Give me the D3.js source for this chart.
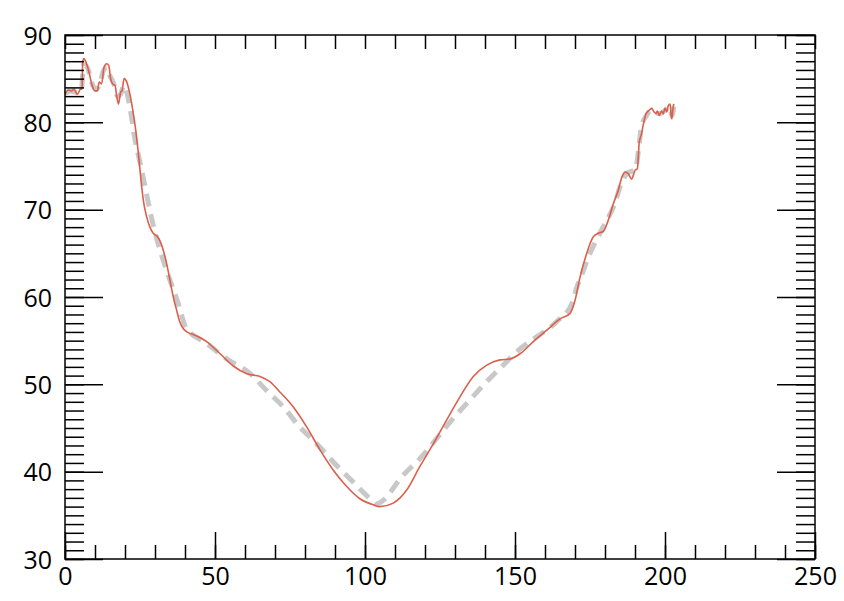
<!DOCTYPE html>
<html>
<head>
<meta charset="utf-8">
<script src="https://cdn.jsdelivr.net/npm/d3@7"></script>
<style>
  body { margin: 0; background: #fff; }
  svg text { font-family: "Open Sans", sans-serif; font-size: 25px; fill: #000; }
</style>
</head>
<body>
<svg id="svg"></svg>
<script>
////////////////////////////////////////////////////////////////////////
// Data

// measured profile (red solid line)
let measX = [0, 1.1, 2.2, 3.0, 4.1, 5.2, 5.7, 5.9, 6.3, 7.0, 8.1, 8.9, 10.0, 10.8, 11.4, 12.2,
  13.0, 13.9, 14.6, 15.2, 15.9, 16.7, 17.2, 17.8, 18.6, 19.0, 19.7, 20.6, 21.4, 22.4, 23.5,
  24.5, 25.3, 26.1, 27.2, 28.3, 29.4, 30.6, 31.7, 32.8, 33.9, 35.0, 36.1, 37.2, 38.3, 39.4,
  40.6, 42.8, 47.2, 51.7, 56.1, 60.6, 65.0, 68.3, 71.7, 76.1, 80.6, 85.0, 89.4, 93.9, 98.3,
  102.8, 105.0, 109.4, 113.9, 118.3, 122.8, 127.2, 131.7, 136.1, 140.6, 145.0, 148.3, 151.7,
  156.1, 160.6, 165.0, 168.3, 170.0, 171.7, 173.9, 176.1, 177.8, 179.4, 181.1, 182.8, 184.4,
  185.6, 186.7, 187.8, 188.9, 189.4, 190.0, 190.8, 191.1, 191.4, 192.2, 192.8, 193.7, 194.8,
  195.6, 196.3, 197.0, 197.4, 198.1, 198.8, 199.4, 200.0, 200.6, 201.1, 201.7, 202.1, 202.3,
  202.6, 202.8, 203.0];
let measY = [83.2, 83.7, 83.6, 83.8, 83.2, 83.8, 83.8, 86.9, 87.3, 86.9, 85.6, 84.4, 83.6, 83.6, 84.6, 84.4,
  86.3, 86.7, 86.5, 85.0, 84.4, 84.2, 83.1, 82.1, 83.5, 83.6, 85.0, 84.6, 83.6, 81.8, 79.3,
  76.3, 73.5, 71.1, 69.2, 68.0, 67.3, 67.0, 66.4, 65.3, 63.8, 61.9, 60.0, 58.5, 57.1, 56.4,
  56.0, 55.7, 54.9, 53.5, 52.1, 51.2, 50.9, 50.3, 49.1, 47.4, 45.1, 42.5, 40.2, 38.3, 36.9,
  36.2, 36.0, 36.4, 37.9, 40.6, 43.2, 45.9, 48.6, 50.9, 52.2, 52.8, 52.9, 53.5,
  54.9, 56.2, 57.5, 58.1, 59.6, 62.3, 65.0, 66.9, 67.3, 67.5, 68.8, 70.7, 72.2,
  73.7, 74.3, 74.1, 73.5, 73.9, 74.5, 74.7, 76.0, 77.7, 78.7, 79.8, 81.0, 81.4,
  81.6, 81.2, 81.0, 81.3, 80.8, 81.3, 81.0, 81.6, 81.2, 81.9, 82.1, 80.6, 80.4,
  81.4, 81.9, 82.1];

// fitted profile (grey dashed line)
let fitX = [0, 2, 4, 5.5, 6.2, 7.2, 8.3, 9.3, 10.5, 11.6, 12.8, 14.0, 15.0, 16.2, 17.5, 18.5,
  19.6, 20.6, 21.7, 23.3, 25.0, 26.7, 28.3, 30.0, 32.2, 35.0, 37.8, 40.3, 47.2, 54.4, 61.1,
  67.2, 72.8, 78.3, 83.9, 90.0, 96.1, 101.7, 103.8, 106.0, 112.2, 118.3, 123.9, 128.9, 134.4,
  140.0, 146.1, 151.5, 157.5, 164.3, 168.9, 170.6, 172.2, 175.0, 178.3, 181.7, 183.3, 185.0,
  187.5, 190.2, 191.1, 192.2, 193.9, 195.5, 197.0, 198.5, 200.0, 201.5, 202.3, 203.0];
let fitY = [83.3, 83.6, 83.4, 83.8, 86.6, 86.4, 85.4, 84.2, 83.8, 84.4, 85.9, 86.3, 85.3, 84.5, 83.0, 83.2,
  84.2, 83.4, 81.6, 78.1, 75.4, 72.6, 69.9, 67.4, 64.8, 61.9, 59.2, 56.5, 54.7, 52.8, 51.4,
  49.3, 47.4, 45.1, 43.2, 40.9, 38.8, 36.9, 36.3, 36.7, 39.4, 41.5, 43.8, 45.9, 48.0,
  50.1, 52.2, 54.0, 55.5, 57.3, 59.2, 61.1, 62.5, 65.0, 67.3, 69.5, 70.7, 72.6,
  74.2, 74.6, 76.6, 79.6, 80.8, 81.4, 81.1, 81.0, 81.4, 81.8, 80.8, 81.9];

let xDomain = [0, 250];
let yDomain = [30, 90];
let xMajor = [0, 50, 100, 150, 200, 250];
let yMajor = [30, 40, 50, 60, 70, 80, 90];


////////////////////////////////////////////////////////////////////////
// Layout

let width = 844, height = 601;
let margin = { left: 65, right: 29, top: 35, bottom: 42 };

let svg = d3.select("#svg")
  .attr("width", width)
  .attr("height", height);

let xScale = d3.scaleLinear().domain(xDomain)
  .range([margin.left, width - margin.right]);
let yScale = d3.scaleLinear().domain(yDomain)
  .range([height - margin.bottom, margin.top]);

let xMinor = d3.range(xDomain[0], xDomain[1] + 1, 10);
let yMinor = d3.range(yDomain[0], yDomain[1] + 1, 1);


////////////////////////////////////////////////////////////////////////
// Lines

function makeLine(xs, ys) {
  return d3.line()
    .x((d, i) => xScale(xs[i]))
    .y((d, i) => yScale(ys[i]))
    .curve(d3.curveMonotoneX)(xs);
}

svg.append("path")
  .attr("d", makeLine(fitX, fitY))
  .attr("fill", "none")
  .attr("stroke", "#c8c8c8")
  .attr("stroke-width", 5)
  .attr("stroke-dasharray", "13,8");

svg.append("path")
  .attr("d", makeLine(measX, measY))
  .attr("fill", "none")
  .attr("stroke", "#dc5f4b")
  .attr("stroke-width", 1.6);


////////////////////////////////////////////////////////////////////////
// Axes (all ticks point inward)

function styleAxis(g) {
  g.select(".domain").remove();
  g.selectAll(".tick line").attr("stroke", "#000").attr("stroke-width", 1.5);
}

let bottomY = yScale(yDomain[0]), topY = yScale(yDomain[1]);
let leftX = xScale(xDomain[0]), rightX = xScale(xDomain[1]);

// bottom
svg.append("g").attr("transform", `translate(0,${bottomY})`)
  .call(d3.axisBottom(xScale).tickValues(xMinor).tickSize(-14).tickFormat(""))
  .call(styleAxis);
svg.append("g").attr("transform", `translate(0,${bottomY})`)
  .call(d3.axisBottom(xScale).tickValues(xMajor).tickSize(-27).tickPadding(8))
  .call(styleAxis)
  .call(g => g.selectAll("text").attr("fill", "#000").style("font-size", "25px"));

// top
svg.append("g").attr("transform", `translate(0,${topY})`)
  .call(d3.axisTop(xScale).tickValues(xMinor).tickSize(-14).tickFormat(""))
  .call(styleAxis);

// left
svg.append("g").attr("transform", `translate(${leftX},0)`)
  .call(d3.axisLeft(yScale).tickValues(yMinor).tickSize(-19).tickFormat(""))
  .call(styleAxis);
svg.append("g").attr("transform", `translate(${leftX},0)`)
  .call(d3.axisLeft(yScale).tickValues(yMajor).tickSize(-38).tickPadding(13))
  .call(styleAxis)
  .call(g => g.selectAll("text").attr("fill", "#000").attr("dy", "0.36em").style("font-size", "25px"));

// right
svg.append("g").attr("transform", `translate(${rightX},0)`)
  .call(d3.axisRight(yScale).tickValues(yMinor).tickSize(-19).tickFormat(""))
  .call(styleAxis);
svg.append("g").attr("transform", `translate(${rightX},0)`)
  .call(d3.axisRight(yScale).tickValues(yMajor).tickSize(-38).tickFormat(""))
  .call(styleAxis);

// frame
svg.append("rect")
  .attr("x", leftX).attr("y", topY)
  .attr("width", rightX - leftX).attr("height", bottomY - topY)
  .attr("fill", "none")
  .attr("stroke", "#000")
  .attr("stroke-width", 1.5);
</script>
</body>
</html>
